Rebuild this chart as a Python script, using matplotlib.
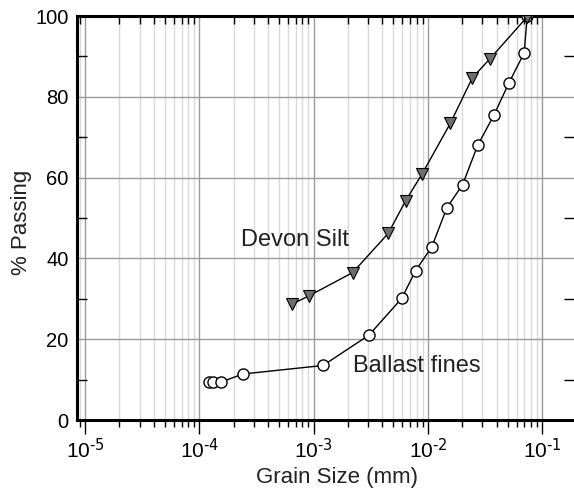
import matplotlib
matplotlib.use("Agg")
import matplotlib.pyplot as plt
from matplotlib.ticker import (LogLocator, MultipleLocator, NullFormatter,
                               FixedLocator, FuncFormatter)
import numpy as np

plt.rcParams["font.family"] = ["Liberation Sans", "DejaVu Sans"]

# Ballast fines (circles)
ballast_size = [1.22e-4, 1.32e-4, 1.55e-4, 2.41e-4, 1.21e-3, 3.05e-3, 5.9e-3,
                7.82e-3, 1.08e-2, 1.47e-2, 2.01e-2, 2.73e-2, 3.79e-2, 5.09e-2,
                6.97e-2, 7.4e-2]
ballast_pass = [9.4, 9.4, 9.4, 11.4, 13.5, 21.0, 30.1, 37.0, 42.8, 52.6, 58.2,
                68.0, 75.5, 83.3, 90.9, 100.0]

# Devon Silt (triangles)
devon_size = [6.5e-4, 9.2e-4, 2.2e-3, 4.5e-3, 6.4e-3, 8.9e-3, 1.57e-2, 2.45e-2,
              3.49e-2, 7.4e-2]
devon_pass = [28.7, 30.8, 36.5, 46.2, 54.3, 60.9, 73.4, 84.7, 89.4, 99.8]


def decade_label(v, pos):
    n = int(round(np.log10(v)))
    return r"$\mathdefault{10^{\text{%d}}}$" % n


fig = plt.figure(figsize=(5.74, 4.93), dpi=100)
ax = fig.add_axes([0.134, 0.148, 0.866, 0.8195])

ax.set_xscale("log")
ax.set_xlim(8.5e-6, 0.19)
ax.set_ylim(0, 100)

# grid
ax.xaxis.set_major_locator(LogLocator(base=10, numticks=10))
ax.xaxis.set_major_formatter(FuncFormatter(decade_label))
ax.xaxis.set_minor_locator(LogLocator(base=10, subs=range(2, 10), numticks=20))
ax.xaxis.set_minor_formatter(NullFormatter())
ax.yaxis.set_major_locator(MultipleLocator(20))
ax.yaxis.set_minor_locator(MultipleLocator(10))
ax.grid(True, which="major", axis="x", color="#9a9a9a", lw=1.0)
ax.grid(True, which="minor", axis="x", color="#dadada", lw=1.0)
ax.grid(True, which="major", axis="y", color="#9a9a9a", lw=1.0)
ax.set_axisbelow(True)

ax.plot(ballast_size, ballast_pass, "-o", color="black", lw=1.0,
        mfc="white", mec="black", mew=1.0, ms=8, zorder=3)
ax.plot(devon_size, devon_pass, "-v", color="black", lw=1.0,
        mfc="#6e6e6e", mec="black", mew=0.8, ms=8.5, zorder=4)

ax.text(2.30e-4, 43.1, "Devon Silt", fontsize=17, va="baseline", ha="left",
        color="#222222")
ax.text(2.21e-3, 11.9, "Ballast fines", fontsize=17, va="baseline", ha="left",
        color="#222222")

# spines
for s in ["left", "top", "bottom"]:
    ax.spines[s].set_linewidth(2.2)
ax.spines["right"].set_visible(False)

ax.tick_params(axis="x", which="major", direction="out", length=10, width=1,
               labelsize=15, pad=3, bottom=True, top=False)
ax.tick_params(axis="x", which="minor", direction="out", length=5, width=1,
               bottom=True, top=False)
ax.tick_params(axis="y", which="major", length=0, labelsize=14.5, pad=6)
ax.tick_params(axis="y", which="minor", direction="in", length=7, width=1,
               left=True, right=True)

# inward minor ticks along the top
top = ax.twiny()
top.set_xscale("log")
top.set_xlim(ax.get_xlim())
top.xaxis.set_major_locator(FixedLocator([]))
top.xaxis.set_minor_locator(LogLocator(base=10, subs=range(2, 10), numticks=20))
top.xaxis.set_minor_formatter(NullFormatter())
top.tick_params(axis="x", which="minor", direction="in", length=6, width=1,
                top=True, labeltop=False)
for s in top.spines.values():
    s.set_visible(False)

ax.set_xlabel("Grain Size (mm)", fontsize=16, color="#222222")
ax.set_ylabel("% Passing", fontsize=16, color="#222222")
ax.xaxis.set_label_coords(0.523, -0.117)
ax.yaxis.set_label_coords(-0.09, 0.489)

fig.savefig("out.png", dpi=100)
